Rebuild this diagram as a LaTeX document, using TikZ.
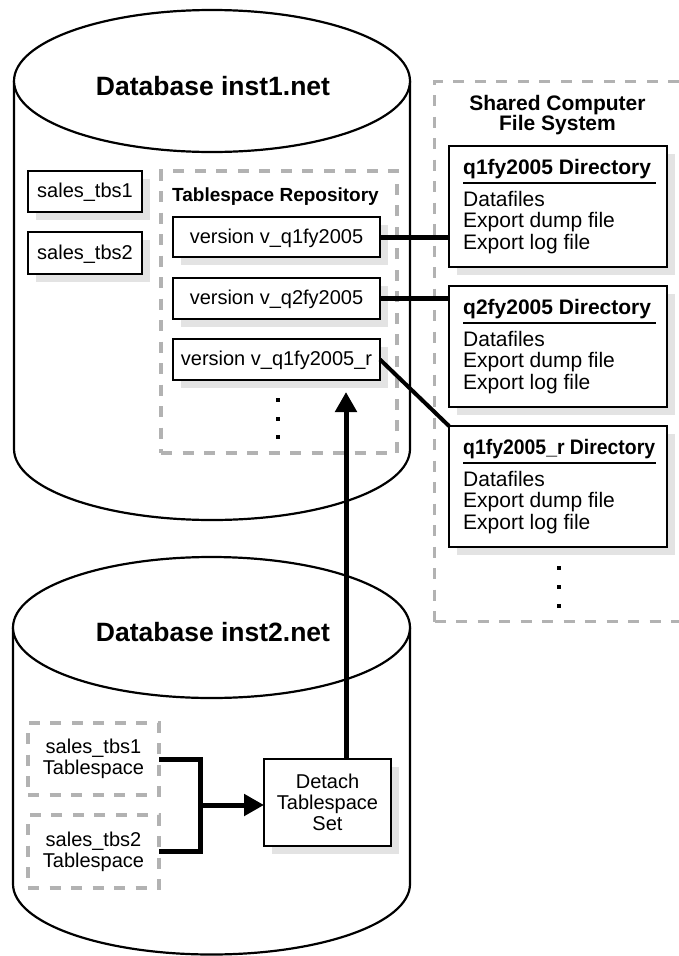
\documentclass[tikz,border=0pt]{standalone}
\usepackage{fontspec}
\setmainfont{Liberation Sans}
\usetikzlibrary{arrows.meta,shadows}
\newcommand{\setfs}[2]{\fontsize{#1pt}{#2pt}\selectfont}
\newcommand{\dirbox}[3]{%
  \node[solidbox, anchor=north west, minimum width=218pt, minimum height=121pt] (#1) at (449,#2) {};
  \node[dirtitle, anchor=base west] (#1t) at ([xshift=14pt,yshift=-28pt]#1.north west) {#3};
  \draw[uline] ([xshift=14pt,yshift=-37pt]#1.north west) -- ([xshift=-11pt,yshift=-37pt]#1.north east);
  \node[dirtext, anchor=base west] (#1a) at ([xshift=14pt,yshift=-60pt]#1.north west) {Datafiles};
  \node[dirtext, anchor=base west] (#1b) at ([xshift=14pt,yshift=-81.5pt]#1.north west) {Export dump file};
  \node[dirtext, anchor=base west] (#1c) at ([xshift=14pt,yshift=-103pt]#1.north west) {Export log file};
}
\tikzset{
  cyl/.style={draw, line width=2.2pt, fill=white},
  solidbox/.style={draw, line width=2.5pt, fill=white, inner sep=0pt, outer sep=0pt,
    drop shadow={shadow xshift=8pt, shadow yshift=-8pt, fill=black!11, opacity=1}},
  graybox/.style={draw=black!30, line width=3.5pt, dash pattern=on 11pt off 10.5pt,
    inner sep=0pt, outer sep=0pt},
  conn/.style={line width=5pt, line join=miter},
  tip/.style={-{Triangle[length=20pt, width=21pt]}},
  vbox/.style={solidbox, minimum width=207pt, minimum height=40pt,
    font=\setfs{20}{21}, text height=14.5pt, text depth=2pt},
  sbox/.style={solidbox, minimum width=114pt, minimum height=41pt,
    font=\setfs{20}{21}, text height=14.5pt, text depth=2pt},
  dbtitle/.style={inner sep=0pt, font=\setfs{26.5}{28}\bfseries},
  dirtitle/.style={inner sep=0pt, font=\setfs{21}{21}\bfseries},
  dirtext/.style={inner sep=0pt, font=\setfs{21}{21.5}},
  dotsq/.style={fill=black, rectangle, minimum size=4pt, inner sep=0pt, outer sep=0pt},
  uline/.style={line width=2.5pt},
}
\begin{document}
\begin{tikzpicture}[x=1pt, y=-1pt]
\useasboundingbox (0,0) rectangle (679,956);

% ---- top cylinder
\draw[cyl] (14,81) -- (14,449) arc[start angle=180, end angle=360, x radius=198pt, y radius=71pt] -- (410,81);
\draw[cyl] (212,81) ellipse[x radius=198pt, y radius=71pt];
\node[dbtitle, anchor=base] (db1) at (213,95.5) {Database inst1.net};

% ---- bottom cylinder
\draw[cyl] (13,627.5) -- (13,884) arc[start angle=180, end angle=360, x radius=198.5pt, y radius=70.5pt] -- (410,627.5);
\draw[cyl] (211.5,627.5) ellipse[x radius=198.5pt, y radius=70.5pt];
\node[dbtitle, anchor=base] (db2) at (213,641.7) {Database inst2.net};

% ---- shared file system
\begin{scope}
\clip (0,0) rectangle (679,956);
\node[graybox, anchor=north west, minimum width=250pt, minimum height=540pt] (shared) at (434.5,81.5) {};
\end{scope}
\node[inner sep=0pt, align=center, font=\setfs{21}{20}\bfseries] (sharedt) at (557.5,114.6) {Shared Computer\\File System};

% ---- tablespace repository
\node[graybox, minimum width=236pt, minimum height=282pt] (repo) at (279,312) {};
\node[inner sep=0pt, anchor=base west, font=\setfs{19}{20}\bfseries] (repot) at (172,201.7) {Tablespace Repository};

% ---- small boxes in inst1
\node[sbox] (s1) at (85,191.5) {sales\_tbs1};
\node[sbox, minimum height=42pt] (s2) at (85,253) {sales\_tbs2};

% ---- version boxes
\node[vbox] (v1) at (276.5,237) {version v\_q1fy2005};
\node[vbox, minimum height=41pt] (v2) at (276.5,298.5) {version v\_q2fy2005};
\node[vbox, minimum height=41pt] (v3) at (276.5,359.5) {version v\_q1fy2005\_r};
\node[dotsq] (rd1) at (278,400) {};
\node[dotsq] (rd2) at (278,418.5) {};
\node[dotsq] (rd3) at (278,437) {};

% ---- directory boxes
\dirbox{d1}{146}{q1fy2005 Directory}
\dirbox{d2}{286}{q2fy2005 Directory}
\dirbox{d3}{426}{\scalebox{0.924}[1]{q1fy2005\_r Directory}}
\node[dotsq] (sd1) at (559,568) {};
\node[dotsq] (sd2) at (559,587) {};
\node[dotsq] (sd3) at (559,606) {};

% ---- inst2 contents
\node[graybox, minimum width=131pt, minimum height=72pt, align=center, font=\setfs{20}{21}] (t1) at (93.5,759) {sales\_tbs1\\Tablespace};
\node[graybox, minimum width=131pt, minimum height=73pt, align=center, font=\setfs{20}{21}] (t2) at (93.5,851.5) {sales\_tbs2\\Tablespace};
\node[solidbox, minimum width=127pt, minimum height=87pt, align=center, font=\setfs{20}{21}] (detach) at (327.5,802.5) {Detach\\Tablespace\\Set};

% ---- connectors
\draw[conn] (v1.east) -- (v1.east -| d1.west);
\draw[conn] (v2.east) -- (v2.east -| d2.west);
\draw[line width=4pt] (v3.east) -- (d3.north west);

\coordinate (j) at (200,805);
\draw[conn] (t1.east) -| (j) |- (t2.east);
\draw[conn, tip] (j) -- (j -| detach.west);

\coordinate (up) at (346,392);
\draw[conn, tip] (detach.north -| up) -- (up);
\end{tikzpicture}
\end{document}
